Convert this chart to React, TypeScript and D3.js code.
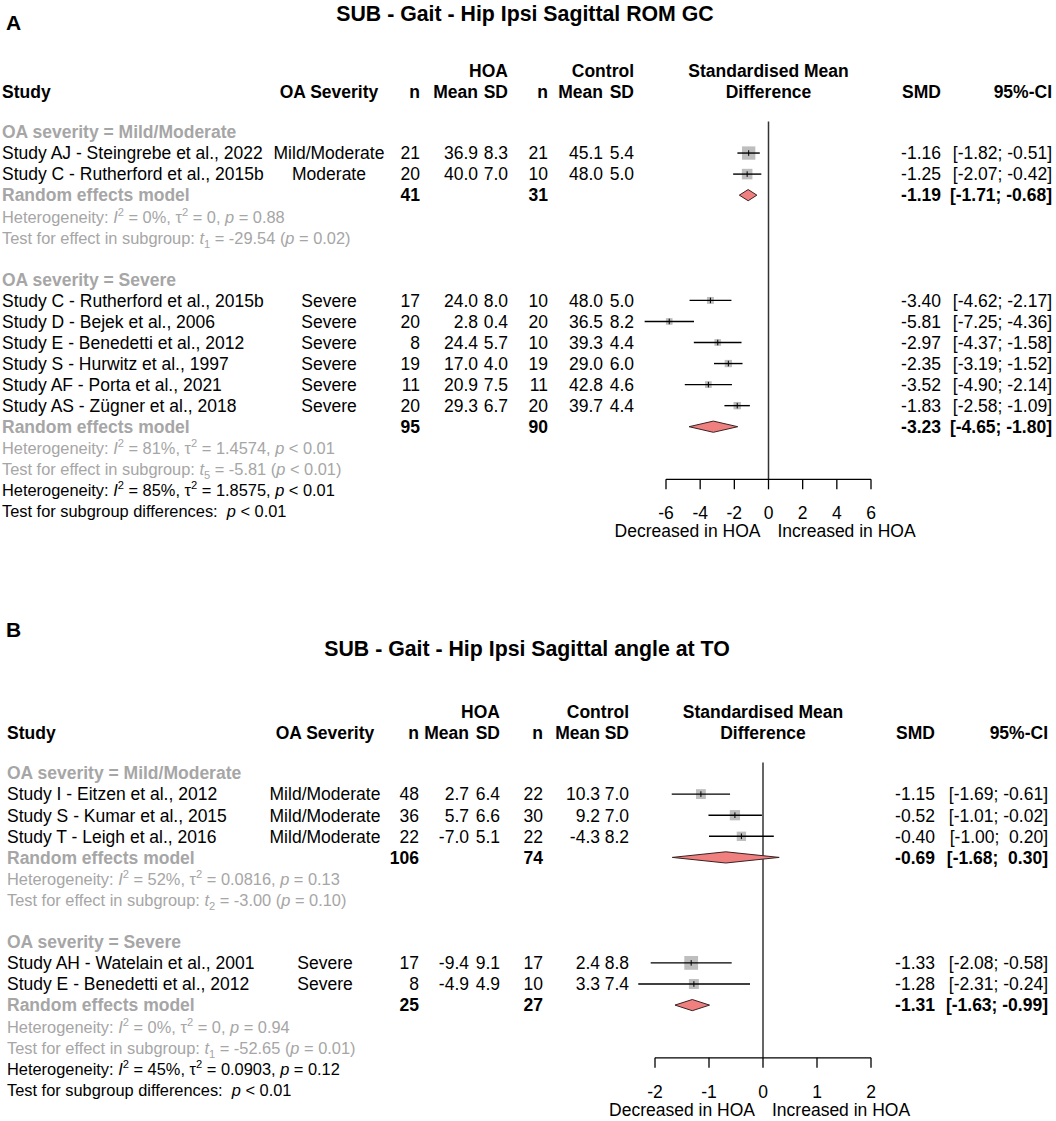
import React from "react";
import * as d3 from "d3";

// ---------------- Panel A data ----------------
const titleA = "SUB - Gait - Hip Ipsi Sagittal ROM GC";
const groupsA = ["Mild/Moderate", "Severe"];
const studiesA = [
  "Study AJ - Steingrebe et al., 2022",
  "Study C - Rutherford et al., 2015b",
  "Study C - Rutherford et al., 2015b",
  "Study D - Bejek et al., 2006",
  "Study E - Benedetti et al., 2012",
  "Study S - Hurwitz et al., 1997",
  "Study AF - Porta et al., 2021",
  "Study AS - Zügner et al., 2018",
];
const groupIdxA = [0, 0, 1, 1, 1, 1, 1, 1];
const severityA = ["Mild/Moderate", "Moderate", "Severe", "Severe", "Severe", "Severe", "Severe", "Severe"];
const nHoaA = [21, 20, 17, 20, 8, 19, 11, 20];
const meanHoaA = [36.9, 40.0, 24.0, 2.8, 24.4, 17.0, 20.9, 29.3];
const sdHoaA = [8.3, 7.0, 8.0, 0.4, 5.7, 4.0, 7.5, 6.7];
const nCtlA = [21, 10, 10, 20, 10, 19, 11, 20];
const meanCtlA = [45.1, 48.0, 48.0, 36.5, 39.3, 29.0, 42.8, 39.7];
const sdCtlA = [5.4, 5.0, 5.0, 8.2, 4.4, 6.0, 4.6, 4.4];
const smdA = [-1.16, -1.25, -3.4, -5.81, -2.97, -2.35, -3.52, -1.83];
const lowerA = [-1.82, -2.07, -4.62, -7.25, -4.37, -3.19, -4.9, -2.58];
const upperA = [-0.51, -0.42, -2.17, -4.36, -1.58, -1.52, -2.14, -1.09];
const weightA = [61.4, 38.6, 16.4, 15.2, 15.4, 18.5, 15.5, 18.9];
const reNHoaA = [41, 95];
const reNCtlA = [31, 90];
const reSmdA = [-1.19, -3.23];
const reLowerA = [-1.71, -4.65];
const reUpperA = [-0.68, -1.8];
const hetI2A = ["0%", "81%"];
const hetTau2A = ["0", "1.4574"];
const hetPA = ["= 0.88", "< 0.01"];
const testDfA = ["1", "5"];
const testTA = ["-29.54", "-5.81"];
const testPA = ["= 0.02", "< 0.01"];
const overallA = ["85%", "1.8575", "< 0.01", "< 0.01"]; // I2, tau2, p, subgroup-difference p
const ticksA = [-6, -4, -2, 0, 2, 4, 6];
const domainA = [-6, 6];

// ---------------- Panel B data ----------------
const titleB = "SUB - Gait - Hip Ipsi Sagittal angle at TO";
const groupsB = ["Mild/Moderate", "Severe"];
const studiesB = [
  "Study I - Eitzen et al., 2012",
  "Study S - Kumar et al., 2015",
  "Study T - Leigh et al., 2016",
  "Study AH - Watelain et al., 2001",
  "Study E - Benedetti et al., 2012",
];
const groupIdxB = [0, 0, 0, 1, 1];
const severityB = ["Mild/Moderate", "Mild/Moderate", "Mild/Moderate", "Severe", "Severe"];
const nHoaB = [48, 36, 22, 17, 8];
const meanHoaB = [2.7, 5.7, -7.0, -9.4, -4.9];
const sdHoaB = [6.4, 6.6, 5.1, 9.1, 4.9];
const nCtlB = [22, 30, 22, 17, 10];
const meanCtlB = [10.3, 9.2, -4.3, 2.4, 3.3];
const sdCtlB = [7.0, 7.0, 8.2, 8.8, 7.4];
const smdB = [-1.15, -0.52, -0.4, -1.33, -1.28];
const lowerB = [-1.69, -1.01, -1.0, -2.08, -2.31];
const upperB = [-0.61, -0.02, 0.2, -0.58, -0.24];
const weightB = [33.5, 36.3, 30.1, 65.6, 34.4];
const reNHoaB = [106, 25];
const reNCtlB = [74, 27];
const reSmdB = [-0.69, -1.31];
const reLowerB = [-1.68, -1.63];
const reUpperB = [0.3, -0.99];
const hetI2B = ["52%", "0%"];
const hetTau2B = ["0.0816", "0"];
const hetPB = ["= 0.13", "= 0.94"];
const testDfB = ["2", "1"];
const testTB = ["-3.00", "-52.65"];
const testPB = ["= 0.10", "= 0.01"];
const overallB = ["45%", "0.0903", "= 0.12", "< 0.01"];
const ticksB = [-2, -1, 0, 1, 2];
const domainB = [-2, 2];

const dataA = {
  label: "A", title: titleA, groups: groupsA, studies: studiesA, groupIdx: groupIdxA, severity: severityA,
  nHoa: nHoaA, meanHoa: meanHoaA, sdHoa: sdHoaA, nCtl: nCtlA, meanCtl: meanCtlA, sdCtl: sdCtlA,
  smd: smdA, lower: lowerA, upper: upperA, weight: weightA,
  reNHoa: reNHoaA, reNCtl: reNCtlA, reSmd: reSmdA, reLower: reLowerA, reUpper: reUpperA,
  hetI2: hetI2A, hetTau2: hetTau2A, hetP: hetPA, testDf: testDfA, testT: testTA, testP: testPA,
  overall: overallA, ticks: ticksA, domain: domainA,
};
const dataB = {
  label: "B", title: titleB, groups: groupsB, studies: studiesB, groupIdx: groupIdxB, severity: severityB,
  nHoa: nHoaB, meanHoa: meanHoaB, sdHoa: sdHoaB, nCtl: nCtlB, meanCtl: meanCtlB, sdCtl: sdCtlB,
  smd: smdB, lower: lowerB, upper: upperB, weight: weightB,
  reNHoa: reNHoaB, reNCtl: reNCtlB, reSmd: reSmdB, reLower: reLowerB, reUpper: reUpperB,
  hetI2: hetI2B, hetTau2: hetTau2B, hetP: hetPB, testDf: testDfB, testT: testTB, testP: testPB,
  overall: overallB, ticks: ticksB, domain: domainB,
};

// ---------------- layout ----------------
const layoutA = {
  labelX: 6, labelY: 30, titleX: 525, titleY: 21,
  top: 132, step: 21.05,
  studyX: 2, sevX: 329,
  hoaN: 420, hoaMean: 478, hoaSD: 508,
  ctlN: 548, ctlMean: 603, ctlSD: 634,
  smdR: 941, ciR: 1052,
  xRange: [666, 871],
};
const layoutB = {
  labelX: 6, labelY: 637, titleX: 527, titleY: 656,
  top: 773, step: 21.1,
  studyX: 7, sevX: 325,
  hoaN: 419, hoaMean: 469, hoaSD: 500,
  ctlN: 543, ctlMean: 600, ctlSD: 629,
  smdR: 935, ciR: 1048,
  xRange: [655, 871],
};

const FONT = "'Liberation Sans', Arial, Helvetica, sans-serif";
const FS = 17.5;
const FS_HET = 16.4;
const GRAY = "#a6a6a6";
const SQUARE = "#bebebe";
const DIAMOND = "#f08080";

type Seg = { t: string; i?: boolean; sup?: boolean; sub?: boolean };

function Rich({ x, y, segs, fill, size }: { x: number; y: number; segs: Seg[]; fill: string; size: number }) {
  let shift = 0;
  const parts = segs.map((s, k) => {
    const target = s.sup ? -7 : s.sub ? 4 : 0;
    const dy = target - shift;
    shift = target;
    return (
      <tspan key={k} dy={dy} fontStyle={s.i ? "italic" : "normal"} fontSize={s.sup || s.sub ? size * 0.68 : size}>
        {s.t}
      </tspan>
    );
  });
  return (
    <text x={x} y={y} fill={fill} fontSize={size} style={{ whiteSpace: "pre" }}>
      {parts}
    </text>
  );
}

const f1 = (v: number) => v.toFixed(1);
const f2 = (v: number) => v.toFixed(2);
const ci = (lo: number, hi: number) => `[${f2(lo)}; ${hi >= 0 ? " " : ""}${f2(hi)}]`;

function Panel({ d, L }: { d: any; L: any }) {
  const x = d3.scaleLinear().domain(d.domain).range(L.xRange);
  const yc = (r: number) => L.top + r * L.step;
  const bl = (r: number) => yc(r) + 6.3;
  const els: React.ReactNode[] = [];
  let r = 0;
  let lastTest = 0;
  const T = (key: string, xx: number, y: number, s: string, anchor = "start", bold = false, fill = "#000") => (
    <text key={key} x={xx} y={y} textAnchor={anchor} fontWeight={bold ? "bold" : "normal"} fill={fill} style={{ whiteSpace: "pre" }}>
      {s}
    </text>
  );

  d.groups.forEach((g: string, gi: number) => {
    els.push(T(`gh${gi}`, L.studyX, bl(r), `OA severity = ${g}`, "start", true, GRAY));
    r++;
    d.studies.forEach((s: string, i: number) => {
      if (d.groupIdx[i] !== gi) return;
      const y = bl(r);
      const cy = yc(r);
      els.push(T(`s${i}`, L.studyX, y, s));
      els.push(T(`sv${i}`, L.sevX, y, d.severity[i], "middle"));
      els.push(T(`nh${i}`, L.hoaN, y, String(d.nHoa[i]), "end"));
      els.push(T(`mh${i}`, L.hoaMean, y, f1(d.meanHoa[i]), "end"));
      els.push(T(`sh${i}`, L.hoaSD, y, f1(d.sdHoa[i]), "end"));
      els.push(T(`nc${i}`, L.ctlN, y, String(d.nCtl[i]), "end"));
      els.push(T(`mc${i}`, L.ctlMean, y, f1(d.meanCtl[i]), "end"));
      els.push(T(`sc${i}`, L.ctlSD, y, f1(d.sdCtl[i]), "end"));
      els.push(T(`smd${i}`, L.smdR, y, f2(d.smd[i]), "end"));
      els.push(T(`ci${i}`, L.ciR, y, ci(d.lower[i], d.upper[i]), "end"));
      const side = 1.7 * Math.sqrt(d.weight[i]);
      els.push(<rect key={`sq${i}`} x={x(d.smd[i]) - side / 2} y={cy - side / 2} width={side} height={side} fill={SQUARE} />);
      els.push(<line key={`cl${i}`} x1={x(d.lower[i])} x2={x(d.upper[i])} y1={cy} y2={cy} stroke="#000" strokeWidth={1.4} />);
      els.push(<line key={`pt${i}`} x1={x(d.smd[i])} x2={x(d.smd[i])} y1={cy - 2.8} y2={cy + 2.8} stroke="#000" strokeWidth={1} />);
      r++;
    });
    {
      const y = bl(r);
      const cy = yc(r);
      els.push(T(`re${gi}`, L.studyX, y, "Random effects model", "start", true, GRAY));
      els.push(T(`ren${gi}`, L.hoaN, y, String(d.reNHoa[gi]), "end", true));
      els.push(T(`renc${gi}`, L.ctlN, y, String(d.reNCtl[gi]), "end", true));
      els.push(T(`resmd${gi}`, L.smdR, y, f2(d.reSmd[gi]), "end", true));
      els.push(T(`reci${gi}`, L.ciR, y, ci(d.reLower[gi], d.reUpper[gi]), "end", true));
      const pts = [
        [x(d.reLower[gi]), cy],
        [x(d.reSmd[gi]), cy - 5.6],
        [x(d.reUpper[gi]), cy],
        [x(d.reSmd[gi]), cy + 5.6],
      ]
        .map((p) => p.join(","))
        .join(" ");
      els.push(<polygon key={`dia${gi}`} points={pts} fill={DIAMOND} stroke="#3a2222" strokeWidth={1} />);
      r++;
    }
    els.push(
      <Rich
        key={`het${gi}`}
        x={L.studyX}
        y={bl(r)}
        fill={GRAY}
        size={FS_HET}
        segs={[
          { t: "Heterogeneity: " },
          { t: "I", i: true },
          { t: "2", sup: true },
          { t: ` = ${d.hetI2[gi]}, ` },
          { t: "τ" },
          { t: "2", sup: true },
          { t: ` = ${d.hetTau2[gi]}, ` },
          { t: "p", i: true },
          { t: ` ${d.hetP[gi]}` },
        ]}
      />
    );
    r++;
    els.push(
      <Rich
        key={`test${gi}`}
        x={L.studyX}
        y={bl(r)}
        fill={GRAY}
        size={FS_HET}
        segs={[
          { t: "Test for effect in subgroup: " },
          { t: "t", i: true },
          { t: d.testDf[gi], sub: true },
          { t: ` = ${d.testT[gi]} (` },
          { t: "p", i: true },
          { t: ` ${d.testP[gi]})` },
        ]}
      />
    );
    lastTest = r;
    r++;
    if (gi < d.groups.length - 1) r++;
  });

  els.push(
    <Rich
      key="ohet"
      x={L.studyX}
      y={bl(r)}
      fill="#000"
      size={FS_HET}
      segs={[
        { t: "Heterogeneity: " },
        { t: "I", i: true },
        { t: "2", sup: true },
        { t: ` = ${d.overall[0]}, ` },
        { t: "τ" },
        { t: "2", sup: true },
        { t: ` = ${d.overall[1]}, ` },
        { t: "p", i: true },
        { t: ` ${d.overall[2]}` },
      ]}
    />
  );
  r++;
  els.push(
    <Rich
      key="otest"
      x={L.studyX}
      y={bl(r)}
      fill="#000"
      size={FS_HET}
      segs={[{ t: "Test for subgroup differences:  " }, { t: "p", i: true }, { t: ` ${d.overall[3]}` }]}
    />
  );

  const vTop = L.top - L.step / 2;
  const axisY = yc(lastTest) + L.step / 2;
  const x0 = x(0);
  const [d0, d1] = d.domain;

  const h1 = L.top - 61.5 + 6.3;
  const h2 = L.top - 40.5 + 6.3;

  return (
    <g>
      <text x={L.labelX} y={L.labelY} fontSize={21} fontWeight="bold">
        {d.label}
      </text>
      <text x={L.titleX} y={L.titleY} fontSize={21.3} fontWeight="bold" textAnchor="middle">
        {d.title}
      </text>
      <g fontWeight="bold">
        <text x={L.hoaSD} y={h1} textAnchor="end">HOA</text>
        <text x={L.ctlSD} y={h1} textAnchor="end">Control</text>
        <text x={x0} y={h1} textAnchor="middle">Standardised Mean</text>
        <text x={L.studyX} y={h2}>Study</text>
        <text x={L.sevX} y={h2} textAnchor="middle">OA Severity</text>
        <text x={L.hoaN} y={h2} textAnchor="end">n</text>
        <text x={L.hoaMean} y={h2} textAnchor="end">Mean</text>
        <text x={L.hoaSD} y={h2} textAnchor="end">SD</text>
        <text x={L.ctlN} y={h2} textAnchor="end">n</text>
        <text x={L.ctlMean} y={h2} textAnchor="end">Mean</text>
        <text x={L.ctlSD} y={h2} textAnchor="end">SD</text>
        <text x={x0} y={h2} textAnchor="middle">Difference</text>
        <text x={L.smdR} y={h2} textAnchor="end">SMD</text>
        <text x={L.ciR} y={h2} textAnchor="end">95%-CI</text>
      </g>
      <line x1={x0} x2={x0} y1={vTop} y2={axisY} stroke="#333" strokeWidth={1.5} />
      {els}
      <line x1={x(d0)} x2={x(d1)} y1={axisY} y2={axisY} stroke="#000" strokeWidth={1.3} />
      {d.ticks.map((t: number) => (
        <g key={`t${t}`}>
          <line x1={x(t)} x2={x(t)} y1={axisY} y2={axisY + 10} stroke="#000" strokeWidth={1.3} />
          <text x={x(t)} y={axisY + 40} textAnchor="middle">
            {String(t)}
          </text>
        </g>
      ))}
      <text x={x0 - 8} y={axisY + 58} textAnchor="end">Decreased in HOA</text>
      <text x={x0 + 9} y={axisY + 58} textAnchor="start">Increased in HOA</text>
    </g>
  );
}

export default function App() {
  return (
    <svg
      width={1056}
      height={1121}
      viewBox="0 0 1056 1121"
      style={{ position: "absolute", left: 0, top: 0, background: "#fff" }}
      fontFamily={FONT}
      fontSize={FS}
    >
      <rect x={0} y={0} width={1056} height={1121} fill="#fff" />
      <Panel d={dataA} L={layoutA} />
      <Panel d={dataB} L={layoutB} />
    </svg>
  );
}
